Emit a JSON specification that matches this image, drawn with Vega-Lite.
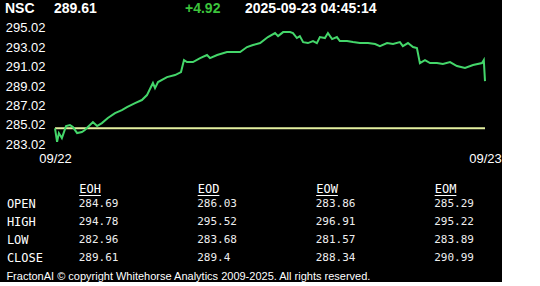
{
  "$schema": "https://vega.github.io/schema/vega-lite/v6.json",
  "background": "#000000",
  "padding": {"left": 5, "top": 0, "right": 0, "bottom": 0},
  "config": {
    "view": {"stroke": null},
    "axis": {"grid": false, "domain": false, "ticks": false, "title": null, "labelOverlap": false}
  },
  "datasets": {
    "header": [
      {"slot": "a", "label": "NSC\u00a0\u00a0\u00a0\u00a0\u00a0289.61", "kind": "level"},
      {"slot": "d", "label": "+4.92", "kind": "change"},
      {"slot": "e", "label": "2025-09-23 04:45:14", "kind": "level"}
    ],
    "ref": [{"close": 284.69}],
    "price": [
      {"time": "2025-09-22T00:00", "close": 284.67},
      {"time": "2025-09-22T00:07", "close": 283.29},
      {"time": "2025-09-22T00:13", "close": 284.18},
      {"time": "2025-09-22T00:23", "close": 283.67},
      {"time": "2025-09-22T00:37", "close": 284.90},
      {"time": "2025-09-22T00:50", "close": 285.01},
      {"time": "2025-09-22T01:00", "close": 284.80},
      {"time": "2025-09-22T01:14", "close": 284.18},
      {"time": "2025-09-22T01:30", "close": 284.29},
      {"time": "2025-09-22T01:40", "close": 284.49},
      {"time": "2025-09-22T01:50", "close": 284.80},
      {"time": "2025-09-22T02:07", "close": 285.31},
      {"time": "2025-09-22T02:21", "close": 284.90},
      {"time": "2025-09-22T02:37", "close": 285.21},
      {"time": "2025-09-22T02:57", "close": 285.73},
      {"time": "2025-09-22T03:21", "close": 286.24},
      {"time": "2025-09-22T03:44", "close": 286.55},
      {"time": "2025-09-22T04:01", "close": 286.86},
      {"time": "2025-09-22T04:28", "close": 287.27},
      {"time": "2025-09-22T04:51", "close": 287.58},
      {"time": "2025-09-22T05:08", "close": 288.09},
      {"time": "2025-09-22T05:18", "close": 288.71},
      {"time": "2025-09-22T05:28", "close": 289.33},
      {"time": "2025-09-22T05:35", "close": 288.81},
      {"time": "2025-09-22T05:45", "close": 289.43},
      {"time": "2025-09-22T06:15", "close": 289.94},
      {"time": "2025-09-22T06:42", "close": 290.15},
      {"time": "2025-09-22T07:02", "close": 290.46},
      {"time": "2025-09-22T07:12", "close": 291.69},
      {"time": "2025-09-22T07:22", "close": 291.49},
      {"time": "2025-09-22T07:42", "close": 291.49},
      {"time": "2025-09-22T08:06", "close": 291.90},
      {"time": "2025-09-22T08:29", "close": 292.21},
      {"time": "2025-09-22T08:39", "close": 291.90},
      {"time": "2025-09-22T09:03", "close": 292.21},
      {"time": "2025-09-22T09:36", "close": 292.52},
      {"time": "2025-09-22T10:03", "close": 292.52},
      {"time": "2025-09-22T10:20", "close": 292.52},
      {"time": "2025-09-22T10:43", "close": 293.03},
      {"time": "2025-09-22T11:03", "close": 293.24},
      {"time": "2025-09-22T11:27", "close": 293.44},
      {"time": "2025-09-22T11:53", "close": 294.06},
      {"time": "2025-09-22T12:17", "close": 294.47},
      {"time": "2025-09-22T12:27", "close": 294.16},
      {"time": "2025-09-22T12:44", "close": 294.57},
      {"time": "2025-09-22T13:07", "close": 294.57},
      {"time": "2025-09-22T13:17", "close": 294.47},
      {"time": "2025-09-22T13:30", "close": 293.96},
      {"time": "2025-09-22T13:40", "close": 294.16},
      {"time": "2025-09-22T13:51", "close": 293.54},
      {"time": "2025-09-22T14:07", "close": 293.44},
      {"time": "2025-09-22T14:24", "close": 293.65},
      {"time": "2025-09-22T14:37", "close": 293.44},
      {"time": "2025-09-22T14:47", "close": 294.06},
      {"time": "2025-09-22T15:04", "close": 293.96},
      {"time": "2025-09-22T15:14", "close": 294.47},
      {"time": "2025-09-22T15:28", "close": 293.85},
      {"time": "2025-09-22T15:44", "close": 294.06},
      {"time": "2025-09-22T15:54", "close": 293.65},
      {"time": "2025-09-22T16:18", "close": 293.65},
      {"time": "2025-09-22T16:38", "close": 293.54},
      {"time": "2025-09-22T17:01", "close": 293.44},
      {"time": "2025-09-22T17:28", "close": 293.44},
      {"time": "2025-09-22T17:52", "close": 293.34},
      {"time": "2025-09-22T18:08", "close": 293.13},
      {"time": "2025-09-22T18:32", "close": 293.44},
      {"time": "2025-09-22T18:52", "close": 293.34},
      {"time": "2025-09-22T19:15", "close": 293.54},
      {"time": "2025-09-22T19:25", "close": 293.13},
      {"time": "2025-09-22T19:42", "close": 293.44},
      {"time": "2025-09-22T19:59", "close": 293.03},
      {"time": "2025-09-22T20:12", "close": 292.93},
      {"time": "2025-09-22T20:22", "close": 291.38},
      {"time": "2025-09-22T20:39", "close": 291.69},
      {"time": "2025-09-22T20:56", "close": 291.38},
      {"time": "2025-09-22T21:19", "close": 291.38},
      {"time": "2025-09-22T21:39", "close": 291.28},
      {"time": "2025-09-22T22:03", "close": 291.49},
      {"time": "2025-09-22T22:26", "close": 291.08},
      {"time": "2025-09-22T22:53", "close": 290.87},
      {"time": "2025-09-22T23:20", "close": 291.18},
      {"time": "2025-09-22T23:50", "close": 291.38},
      {"time": "2025-09-22T23:56", "close": 291.69},
      {"time": "2025-09-23T00:00", "close": 289.53}
    ],
    "ohlc": [
      {"stat": "OPEN", "period": "EOH", "value": 284.69},
      {"stat": "OPEN", "period": "EOD", "value": 286.03},
      {"stat": "OPEN", "period": "EOW", "value": 283.86},
      {"stat": "OPEN", "period": "EOM", "value": 285.29},
      {"stat": "HIGH", "period": "EOH", "value": 294.78},
      {"stat": "HIGH", "period": "EOD", "value": 295.52},
      {"stat": "HIGH", "period": "EOW", "value": 296.91},
      {"stat": "HIGH", "period": "EOM", "value": 295.22},
      {"stat": "LOW", "period": "EOH", "value": 282.96},
      {"stat": "LOW", "period": "EOD", "value": 283.68},
      {"stat": "LOW", "period": "EOW", "value": 281.57},
      {"stat": "LOW", "period": "EOM", "value": 283.89},
      {"stat": "CLOSE", "period": "EOH", "value": 289.61},
      {"stat": "CLOSE", "period": "EOD", "value": 289.4},
      {"stat": "CLOSE", "period": "EOW", "value": 288.34},
      {"stat": "CLOSE", "period": "EOM", "value": 290.99}
    ]
  },
  "columns": 1,
  "align": "none",
  "spacing": 17,
  "concat": [
    {
      "columns": 1,
      "align": "none",
      "spacing": 0,
      "concat": [
        {
          "width": 240,
          "height": 18,
          "data": {"name": "header"},
          "mark": {"type": "text", "align": "left", "baseline": "middle", "dx": -50, "font": "Liberation Sans", "fontWeight": "bold", "fontSize": 14},
          "encoding": {
            "x": {"field": "slot", "type": "nominal", "scale": {"type": "point", "domain": ["a", "b", "c", "d", "e"], "padding": 0}, "axis": null},
            "text": {"field": "label", "type": "nominal"},
            "color": {"field": "kind", "type": "nominal", "scale": {"domain": ["level", "change"], "range": ["#ffffff", "#3cc43c"]}, "legend": null}
          }
        },
        {
          "width": 430,
          "height": 132,
          "encoding": {
            "y": {
              "field": "close", "type": "quantitative",
              "scale": {"domain": [282.44, 296.02], "zero": false, "nice": false},
              "axis": {"values": [283.02, 285.02, 287.02, 289.02, 291.02, 293.02, 295.02], "format": ".2f", "labelOverlap": false, "labelColor": "#ffffff", "labelFont": "Liberation Sans", "labelFontSize": 13, "labelPadding": 10}
            }
          },
          "layer": [
            {
              "data": {"name": "ref"},
              "mark": {"type": "rule", "color": "#e4f0a0", "strokeWidth": 2}
            },
            {
              "data": {"name": "price"},
              "mark": {"type": "line", "color": "#44d66a", "strokeWidth": 2},
              "encoding": {
                "x": {
                  "field": "time", "type": "temporal",
                  "scale": {"domain": [{"year": 2025, "month": 9, "date": 22}, {"year": 2025, "month": 9, "date": 23}]},
                  "axis": {"values": [{"year": 2025, "month": 9, "date": 22}, {"year": 2025, "month": 9, "date": 23}], "format": "%m/%d", "labelFlush": false, "labelOverlap": false, "labelColor": "#ffffff", "labelFont": "Liberation Sans", "labelFontSize": 13, "labelPadding": 2}
                }
              }
            }
          ]
        }
      ]
    },
    {
      "width": 402.9,
      "height": 71.5,
      "data": {"name": "ohlc"},
      "title": {"text": "FractonAI © copyright Whitehorse Analytics 2009-2025. All rights reserved.", "orient": "bottom", "anchor": "start", "frame": "bounds", "offset": 4, "color": "#ffffff", "font": "Liberation Sans", "fontSize": 11, "fontWeight": "normal"},
      "mark": {"type": "text", "align": "left", "baseline": "middle", "font": "DejaVu Sans Mono", "fontSize": 11, "color": "#eeeeee"},
      "encoding": {
        "x": {
          "field": "period", "type": "nominal",
          "scale": {"type": "point", "domain": ["EOH", "EOD", "EOW", "EOM"], "padding": 0.2},
          "axis": {"orient": "top", "labelAlign": "left", "labelAngle": 0, "labelFont": "DejaVu Sans Mono", "labelFontSize": 12, "labelColor": "#ffffff", "labelPadding": 0, "domain": true, "domainColor": "#ffffff", "domainWidth": 1, "domainDash": [21.7, 96.8], "domainDashOffset": 94.8}
        },
        "y": {
          "field": "stat", "type": "nominal",
          "scale": {"domain": ["OPEN", "HIGH", "LOW", "CLOSE"], "paddingInner": 0, "paddingOuter": 0.1667},
          "axis": {"labelAlign": "left", "labelPadding": 48.6, "labelFont": "DejaVu Sans Mono", "labelFontSize": 12, "labelColor": "#ffffff"}
        },
        "text": {"field": "value", "type": "nominal"}
      }
    }
  ]
}
